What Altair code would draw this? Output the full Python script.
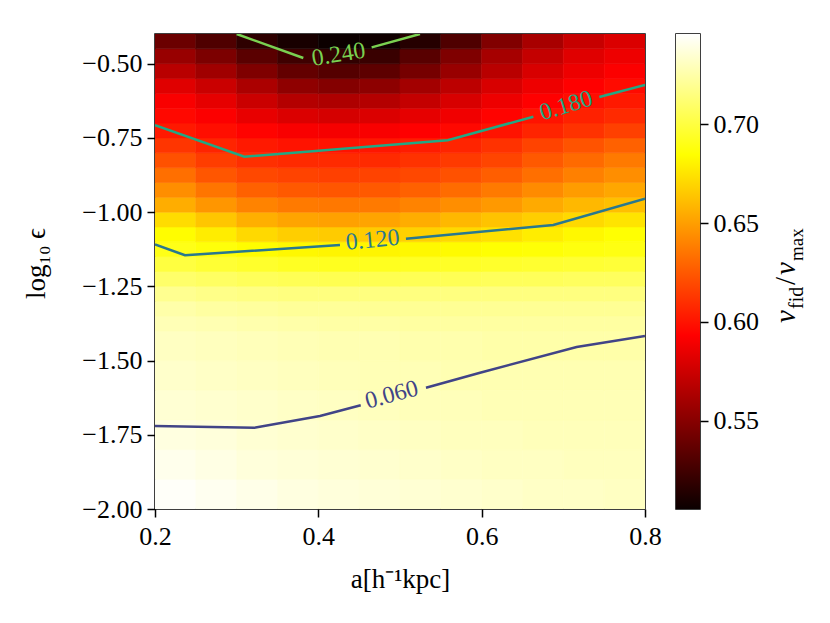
import altair as alt
import pandas as pd

# ---------------- data ----------------
VMIN, VMAX = 0.5055, 0.7455          # colour-bar limits
HOT_STOPS = [VMIN, 0.5931, 0.6846, VMAX]
HOT_COLORS = ["#0b0000", "#ff0000", "#ffff00", "#ffffff"]

X_EDGES = [0.2, 0.25, 0.3, 0.35, 0.4, 0.45, 0.5, 0.55, 0.6, 0.65, 0.7, 0.75, 0.8]
Y_EDGES = [-2.0, -1.9, -1.8, -1.7, -1.6, -1.5, -1.4, -1.35, -1.3, -1.25, -1.2,
           -1.15, -1.1, -1.05, -1.0, -0.95, -0.9, -0.85, -0.8, -0.75, -0.7,
           -0.65, -0.6, -0.55, -0.5, -0.45, -0.4]

# v_fid / v_max, rows from bottom (-2.0) to top (-0.4), columns left to right
V_ROWS = [
    [0.744, 0.742, 0.740, 0.738, 0.737, 0.736, 0.735, 0.734, 0.733, 0.732, 0.732, 0.731],
    [0.741, 0.739, 0.737, 0.736, 0.735, 0.734, 0.733, 0.732, 0.731, 0.731, 0.730, 0.730],
    [0.738, 0.737, 0.735, 0.734, 0.733, 0.732, 0.731, 0.730, 0.730, 0.729, 0.729, 0.729],
    [0.735, 0.734, 0.733, 0.732, 0.731, 0.730, 0.729, 0.729, 0.728, 0.728, 0.728, 0.728],
    [0.733, 0.732, 0.731, 0.730, 0.729, 0.728, 0.728, 0.727, 0.727, 0.727, 0.727, 0.727],
    [0.731, 0.730, 0.729, 0.728, 0.727, 0.727, 0.726, 0.726, 0.725, 0.725, 0.725, 0.725],
    [0.728, 0.727, 0.726, 0.725, 0.724, 0.724, 0.723, 0.723, 0.723, 0.723, 0.723, 0.723],
    [0.725, 0.723, 0.722, 0.721, 0.721, 0.720, 0.720, 0.720, 0.720, 0.720, 0.720, 0.720],
    [0.719, 0.717, 0.716, 0.715, 0.715, 0.715, 0.715, 0.715, 0.715, 0.715, 0.715, 0.715],
    [0.710, 0.708, 0.706, 0.705, 0.704, 0.704, 0.705, 0.705, 0.706, 0.706, 0.707, 0.707],
    [0.700, 0.697, 0.695, 0.693, 0.692, 0.692, 0.693, 0.694, 0.695, 0.696, 0.697, 0.698],
    [0.690, 0.687, 0.684, 0.682, 0.681, 0.681, 0.682, 0.683, 0.685, 0.686, 0.688, 0.689],
    [0.684, 0.678, 0.671, 0.667, 0.666, 0.666, 0.668, 0.671, 0.674, 0.678, 0.682, 0.685],
    [0.672, 0.664, 0.656, 0.652, 0.651, 0.652, 0.655, 0.659, 0.663, 0.667, 0.671, 0.675],
    [0.655, 0.647, 0.640, 0.637, 0.636, 0.637, 0.640, 0.644, 0.648, 0.654, 0.659, 0.662],
    [0.644, 0.635, 0.628, 0.625, 0.624, 0.625, 0.628, 0.632, 0.637, 0.643, 0.649, 0.653],
    [0.633, 0.624, 0.619, 0.617, 0.616, 0.617, 0.619, 0.622, 0.627, 0.633, 0.639, 0.644],
    [0.622, 0.615, 0.610, 0.608, 0.608, 0.608, 0.611, 0.614, 0.618, 0.625, 0.631, 0.637],
    [0.612, 0.606, 0.602, 0.600, 0.600, 0.601, 0.603, 0.606, 0.611, 0.617, 0.623, 0.628],
    [0.602, 0.598, 0.594, 0.591, 0.590, 0.591, 0.593, 0.596, 0.600, 0.606, 0.611, 0.616],
    [0.596, 0.592, 0.585, 0.580, 0.578, 0.580, 0.584, 0.588, 0.594, 0.600, 0.605, 0.608],
    [0.591, 0.584, 0.574, 0.566, 0.564, 0.566, 0.572, 0.579, 0.587, 0.593, 0.598, 0.602],
    [0.582, 0.574, 0.563, 0.553, 0.549, 0.552, 0.560, 0.569, 0.579, 0.587, 0.593, 0.597],
    [0.568, 0.559, 0.547, 0.537, 0.532, 0.535, 0.544, 0.556, 0.568, 0.579, 0.587, 0.592],
    [0.556, 0.546, 0.534, 0.524, 0.519, 0.522, 0.533, 0.547, 0.561, 0.572, 0.582, 0.587],
    [0.540, 0.530, 0.518, 0.510, 0.506, 0.507, 0.515, 0.530, 0.548, 0.562, 0.573, 0.580],
]

# contour lines (pieces on both sides of each inline label)
LEVELS = ["0.060", "0.120", "0.180", "0.240"]
LEVEL_COLORS = ["#414487", "#2a788e", "#22a884", "#7ad151"]
SEGMENTS = [
    ("0.060", [0.2, 0.3216, 0.4020, 0.4519], [-1.7204, -1.7262, -1.6867, -1.6507]),
    ("0.060", [0.5318, 0.598, 0.7163, 0.8], [-1.5914, -1.541, -1.4543, -1.4173]),
    ("0.120", [0.2, 0.2367, 0.4265], [-1.1084, -1.1454, -1.1107]),
    ("0.120", [0.5073, 0.6877, 0.8], [-1.0895, -1.0434, -0.9548]),
    ("0.180", [0.2, 0.3094, 0.5584, 0.6633], [-0.7075, -0.8133, -0.7580, -0.6786]),
    ("0.180", [0.7441, 0.8], [-0.6122, -0.5718]),
    ("0.240", [0.300, 0.3816], [-0.40, -0.481]),
    ("0.240", [0.4653, 0.5245], [-0.445, -0.40]),
]
LABEL_X = [0.4898, 0.4665, 0.7033, 0.4249]
LABEL_Y = [-1.616, -1.0949, -0.6425, -0.4700]
LABEL_ANGLE = [345, 354.5, 343, 351]

X_TICKS = [0.2, 0.4, 0.6, 0.8]
Y_TICKS = [-2.0, -1.75, -1.5, -1.25, -1.0, -0.75, -0.5]
CB_TICKS = [0.55, 0.60, 0.65, 0.70]

# ---------------- tables ----------------
heat_rows = []
for i, row in enumerate(V_ROWS):
    for j, v in enumerate(row):
        heat_rows.append({"x": X_EDGES[j], "x2": X_EDGES[j + 1],
                          "y": Y_EDGES[i], "y2": Y_EDGES[i + 1], "v": v})
heat_df = pd.DataFrame(heat_rows)

line_rows = []
for k, (lev, xs, ys) in enumerate(SEGMENTS):
    for o, (xx, yy) in enumerate(zip(xs, ys)):
        line_rows.append({"level": lev, "seg": k, "o": o, "x": xx, "y": yy})
line_df = pd.DataFrame(line_rows)

label_df = pd.DataFrame({"level": LEVELS, "x": LABEL_X, "y": LABEL_Y, "angle": LABEL_ANGLE})

FONT = "Liberation Serif"

xscale = alt.Scale(domain=[0.2, 0.8], nice=False, zero=False)
yscale = alt.Scale(domain=[-2.0, -0.4], nice=False, zero=False)
hot = alt.Scale(domain=HOT_STOPS, range=HOT_COLORS, interpolate="rgb", clamp=True)
lev_scale = alt.Scale(domain=LEVELS, range=LEVEL_COLORS)

heat = alt.Chart(heat_df).mark_rect(strokeWidth=0.6, clip=True).encode(
    x=alt.X("x:Q", scale=xscale,
            axis=alt.Axis(values=X_TICKS, format=".1f", title="a[h⁻¹kpc]",
                          labelPadding=6, labelFlush=False, titleX=245, titleY=70,
                          titleAlign="center", titleBaseline="middle")),
    x2="x2:Q",
    y=alt.Y("y:Q", scale=yscale,
            axis=alt.Axis(values=Y_TICKS, format=".2f", title="log₁₀ ϵ",
                          labelPadding=5, labelFlush=False, titleX=-119, titleY=229,
                          titleAngle=270, titleAlign="center", titleBaseline="middle")),
    y2="y2:Q",
    color=alt.Color("v:Q", scale=hot, legend=None),
    stroke=alt.Stroke("v:Q", scale=hot, legend=None),
)

lines = alt.Chart(line_df).mark_line(strokeWidth=2.5, clip=True).encode(
    x=alt.X("x:Q", scale=xscale),
    y=alt.Y("y:Q", scale=yscale),
    detail="seg:N",
    order="o:Q",
    color=alt.Color("level:N", scale=lev_scale, legend=None),
)

labels = alt.Chart(label_df).mark_text(font=FONT, fontSize=24, align="center",
                                       baseline="middle").encode(
    x=alt.X("x:Q", scale=xscale),
    y=alt.Y("y:Q", scale=yscale),
    text="level:N",
    angle=alt.Angle("angle:Q", scale=None),
    color=alt.Color("level:N", scale=lev_scale, legend=None),
)

main = alt.layer(heat, lines, labels).resolve_scale(
    color="independent", stroke="independent"
).properties(width=490, height=475)

# ---------------- colour bar ----------------
cb_df = pd.DataFrame({"lo": [VMIN], "hi": [VMAX]})
grad = alt.Gradient(
    gradient="linear",
    stops=[alt.GradientStop(offset=0, color=HOT_COLORS[0]),
           alt.GradientStop(offset=0.365, color=HOT_COLORS[1]),
           alt.GradientStop(offset=0.746, color=HOT_COLORS[2]),
           alt.GradientStop(offset=1, color=HOT_COLORS[3])],
    x1=0, x2=0, y1=1, y2=0,
)
bar = alt.Chart(cb_df).mark_rect(fill=grad).encode(
    y=alt.Y("lo:Q", scale=alt.Scale(domain=[VMIN, VMAX], nice=False, zero=False),
            axis=alt.Axis(orient="right", values=CB_TICKS, format=".2f",
                          title=None, labelPadding=5, labelFlush=False)),
    y2="hi:Q",
)


def piece(txt, px, py, size, style):
    return alt.Chart(cb_df).mark_text(
        text=txt, font=FONT, fontSize=size, fontStyle=style, angle=270,
        align="left", baseline="alphabetic", color="black"
    ).encode(x=alt.value(px), y=alt.value(py))


cb_title = [
    piece("v", 119, 289, 29, "italic"),
    piece("fid", 127, 275, 20, "normal"),
    piece("/", 119, 251, 29, "normal"),
    piece("v", 119, 241, 29, "italic"),
    piece("max", 127, 227, 19, "normal"),
]

cbar = alt.layer(bar, *cb_title).properties(width=24, height=475)

chart = alt.hconcat(main, cbar, spacing=31, bounds="flush").properties(
    padding={"left": 13, "top": 25, "right": 5, "bottom": 5}
).configure_view(
    stroke="black", strokeWidth=1.5
).configure_axis(
    labelFont=FONT, labelFontSize=26, labelColor="black",
    titleFont=FONT, titleFontSize=27, titleFontWeight="normal", titleColor="black",
    tickColor="black", tickWidth=1.5, tickSize=8, domain=False, grid=False,
)

chart.save("out.html", embed_options={"renderer": "svg", "actions": False})
